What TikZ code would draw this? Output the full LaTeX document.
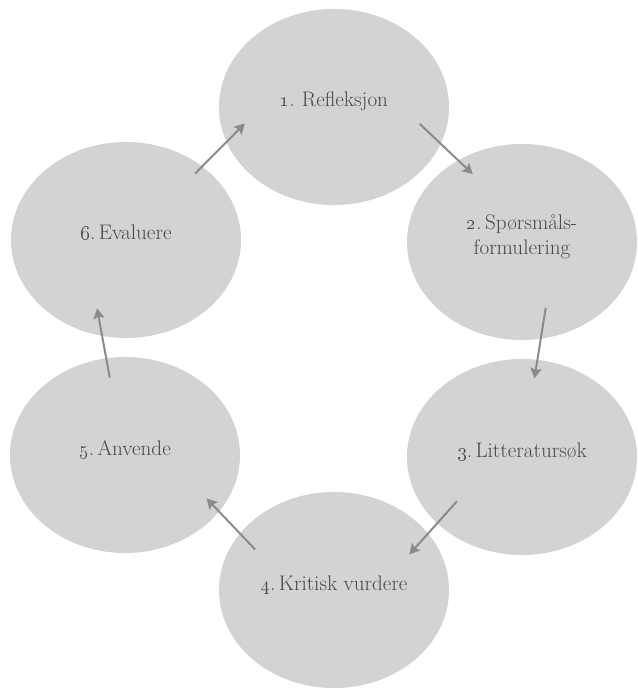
\documentclass[tikz,border=0pt]{standalone}
\usepackage{xcolor}
\usepackage{tikz}
\usetikzlibrary{arrows.meta, shapes.geometric}

\definecolor{ovalgray}{RGB}{211,211,211}
\definecolor{labelgray}{RGB}{72,72,72}
\definecolor{arrowgray}{RGB}{138,138,138}

\begin{document}
\begin{tikzpicture}[
    x=0.025cm, y=-0.025cm,
    stage/.style={ellipse, fill=ovalgray, minimum width=5.75cm,
                  minimum height=4.9cm, inner sep=0pt, outer sep=0pt,
                  text=labelgray, font=\fontsize{15}{18}\selectfont,
                  text height=0pt, text depth=0pt},
    arr/.style={-{Stealth[length=2.6mm, width=2.8mm, inset=0.5mm]},
                draw=arrowgray, line width=1.4pt}
]
\fill[white] (0,0) rectangle (637,688);
\useasboundingbox (0,0) rectangle (637,688);

\node[stage] (s1) at (334,107) {\oldstylenums{1}.\,\,Refleksjon};
\node[stage] (s2) at (522,242)
    {\begin{tabular}{@{}c@{}}\oldstylenums{2}.\,Spørsmåls-\\formulering\end{tabular}};
\node[stage] (s3) at (522,457) {\oldstylenums{3}.\,Litteratursøk};
\node[stage] (s4) at (334,590) {\oldstylenums{4}.\,Kritisk vurdere};
\node[stage] (s5) at (125,455) {\oldstylenums{5}.\,Anvende};
\node[stage] (s6) at (126,240) {\oldstylenums{6}.\,Evaluere};

\draw[arr, shorten <=-0.72cm, shorten >=-0.5cm] (s1.-19.2) -- (s2.128.5);
\draw[arr, shorten <=-0.78cm, shorten >=-0.47cm] (s2.-79.6) -- (s3.81.8);
\draw[arr, shorten <=-0.74cm, shorten >=-0.7cm] (s3.-142.3) -- (s4.31.8);
\draw[arr, shorten <=-0.55cm, shorten >=-0.45cm] (s4.149.6) -- (s5.-31.9);
\draw[arr, shorten <=-0.49cm, shorten >=-0.7cm] (s5.101.6) -- (s6.-104);
\draw[arr, shorten <=-0.25cm, shorten >=-0.65cm] (s6.44.6) -- (s1.-162.3);
\end{tikzpicture}
\end{document}
